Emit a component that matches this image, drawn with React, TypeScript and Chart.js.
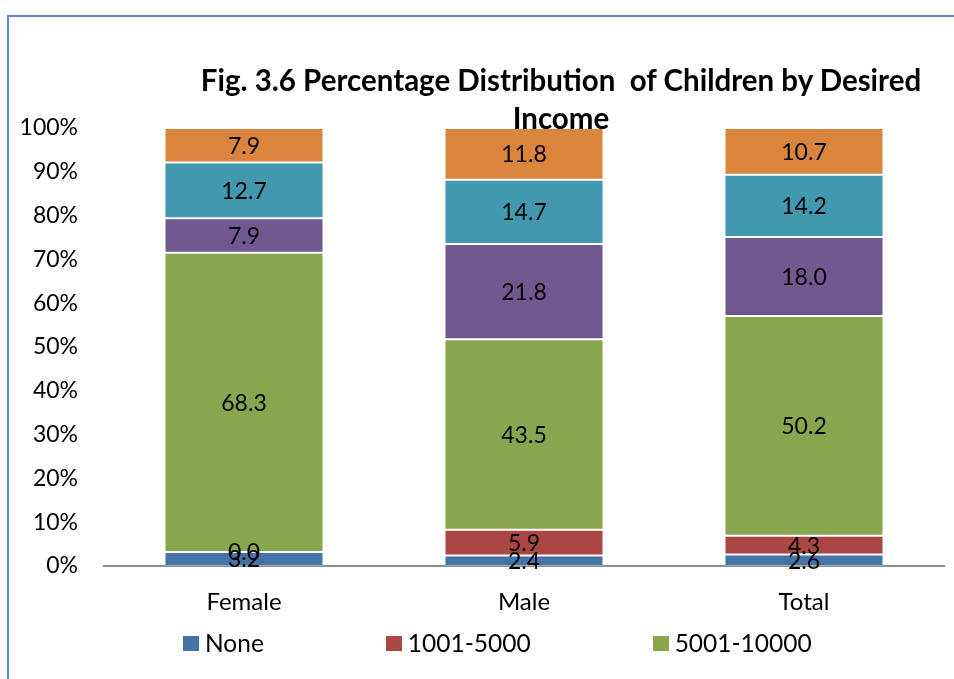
import React, { useEffect, useRef } from "react";
import { Chart, registerables } from "chart.js";

Chart.register(...registerables);

// Income bands desired by children, per group (percent)
const categories = ["Female", "Male", "Total"];
const seriesNames = ["None", "1001-5000", "5001-10000", "10001-20000", "20001-50000", "Above 50000"];
const noneValues = [3.2, 2.4, 2.6];
const band1001to5000 = [0.0, 5.9, 4.3];
const band5001to10000 = [68.3, 43.5, 50.2];
const band10001to20000 = [7.9, 21.8, 18.0];
const band20001to50000 = [12.7, 14.7, 14.2];
const bandAbove50000 = [7.9, 11.8, 10.7];
const seriesColors = ["#4572A7", "#AA4643", "#89A54E", "#71588F", "#4198AF", "#DB843D"];
const legendEntries = 3;
const titleLines = ["Fig. 3.6 Percentage Distribution  of Children by Desired", "Income"];

const FONT = "Lato, 'Open Sans', sans-serif";

const seriesValues = [
  noneValues,
  band1001to5000,
  band5001to10000,
  band10001to20000,
  band20001to50000,
  bandAbove50000,
];

// 100% stacking: each column is scaled to its own total
const columnTotals = categories.map((_, i) =>
  seriesValues.reduce((sum, s) => sum + s[i], 0)
);

// Writes each segment's stated value at the middle of its bar piece
const segmentLabels = {
  id: "segmentLabels",
  afterDatasetsDraw(chart: any) {
    const { ctx } = chart;
    ctx.save();
    ctx.font = `23px ${FONT}`;
    ctx.fillStyle = "#000000";
    ctx.textAlign = "center";
    ctx.textBaseline = "middle";
    chart.data.datasets.forEach((ds: any, di: number) => {
      const meta = chart.getDatasetMeta(di);
      if (meta.hidden) return;
      meta.data.forEach((bar: any, i: number) => {
        const { x, y, base } = bar.getProps(["x", "y", "base"], true);
        const raw = ds.rawValues[i] as number;
        ctx.fillText(raw.toFixed(1), x, (y + base) / 2 + 1);
      });
    });
    ctx.restore();
  },
};

export default function App() {
  const canvasRef = useRef<HTMLCanvasElement | null>(null);

  useEffect(() => {
    let chart: Chart | null = null;
    let cancelled = false;

    const build = () => {
      if (cancelled || !canvasRef.current) return;
      chart = new Chart(canvasRef.current, {
        type: "bar",
        data: {
          labels: categories,
          datasets: seriesNames.map((name, si) => ({
            label: name,
            data: seriesValues[si].map((v, i) => (v / columnTotals[i]) * 100),
            rawValues: seriesValues[si],
            backgroundColor: seriesColors[si],
            borderColor: "rgba(255,255,255,0.25)",
            borderWidth: 1,
            borderSkipped: false,
            categoryPercentage: 1,
            barPercentage: 0.568,
          })) as any,
        },
        options: {
          animation: false,
          responsive: false,
          layout: { padding: { top: 128, right: 10, bottom: 53, left: 0 } },
          plugins: {
            legend: { display: false },
            title: { display: false },
            tooltip: { enabled: false },
          },
          scales: {
            x: {
              stacked: true,
              grid: { display: false, drawTicks: false },
              border: { display: true, color: "#8c8c8c", width: 2 },
              ticks: {
                color: "#000000",
                padding: 22,
                font: { family: FONT, size: 24 },
              },
              afterFit(scale: any) {
                scale.height = 60;
              },
            },
            y: {
              stacked: true,
              min: 0,
              max: 100,
              grid: { display: false, drawTicks: false },
              border: { display: false },
              ticks: {
                stepSize: 10,
                color: "#000000",
                padding: 26,
                font: { family: FONT, size: 23 },
                callback: (v: any) => `${v}%`,
              },
              afterFit(scale: any) {
                scale.width = 104;
              },
            },
          },
        },
        plugins: [segmentLabels],
      });
    };

    Promise.all([
      document.fonts.load(`23px Lato`),
      document.fonts.load(`bold 29px Lato`),
    ])
      .catch(() => undefined)
      .then(build);

    return () => {
      cancelled = true;
      if (chart) chart.destroy();
    };
  }, []);

  return (
    <div
      style={{
        position: "absolute",
        left: 0,
        top: 0,
        width: 954,
        height: 679,
        overflow: "hidden",
        background: "#ffffff",
        fontFamily: FONT,
      }}
    >
      <div
        style={{
          position: "absolute",
          left: 7,
          top: 15,
          width: 2000,
          height: 2000,
          borderTop: "2px solid #5B8BD0",
          borderLeft: "2px solid #5B8BD0",
        }}
      />
      <canvas
        ref={canvasRef}
        width={954}
        height={679}
        style={{ position: "absolute", left: 0, top: 0, width: 954, height: 679 }}
      />
      <div
        style={{
          position: "absolute",
          left: 61,
          top: 61,
          width: 1000,
          textAlign: "center",
          whiteSpace: "pre",
          fontWeight: 700,
          fontSize: 29.5,
          lineHeight: "38px",
          color: "#000000",
        }}
      >
        {titleLines.map((line) => (
          <div key={line}>{line}</div>
        ))}
      </div>
      <div
        style={{
          position: "absolute",
          left: 183,
          top: 628,
          height: 30,
          display: "flex",
          alignItems: "center",
          gap: 122,
          whiteSpace: "nowrap",
        }}
      >
        {seriesNames.slice(0, legendEntries).map((name, i) => (
          <div key={name} style={{ display: "flex", alignItems: "center" }}>
            <span
              style={{
                display: "inline-block",
                width: 16,
                height: 15,
                background: seriesColors[i],
                marginRight: 6,
              }}
            />
            <span style={{ fontSize: 24.5, lineHeight: "30px", color: "#000000" }}>{name}</span>
          </div>
        ))}
      </div>
    </div>
  );
}
